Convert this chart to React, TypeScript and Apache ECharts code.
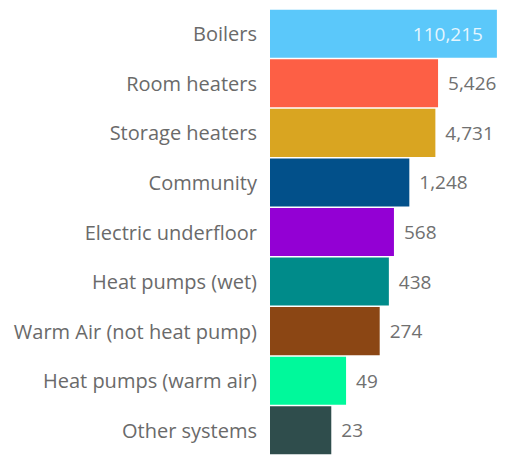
import React, { useEffect, useRef } from "react";
import * as echarts from "echarts";

const categories = [
  "Boilers",
  "Room heaters",
  "Storage heaters",
  "Community",
  "Electric underfloor",
  "Heat pumps (wet)",
  "Warm Air (not heat pump)",
  "Heat pumps (warm air)",
  "Other systems",
];
const values = [110215, 5426, 4731, 1248, 568, 438, 274, 49, 23];
const colors = [
  "#5BC8FA",
  "#FD5F45",
  "#D9A521",
  "#02508A",
  "#9300D4",
  "#008B8A",
  "#8B4614",
  "#00F99B",
  "#2F4D4C",
];

export default function App() {
  const ref = useRef<HTMLDivElement>(null);
  useEffect(() => {
    if (!ref.current) return;
    const chart = echarts.init(ref.current, undefined, { renderer: "svg" });
    const fmt = (v: number) => v.toLocaleString("en-US");
    chart.setOption({
      animation: false,
      grid: { left: 262, right: 6, top: 1, bottom: 5, containLabel: false },
      xAxis: {
        type: "log",
        min: 1,
        max: Math.pow(10, 5.2),
        show: false,
      },
      yAxis: {
        type: "category",
        data: categories,
        inverse: true,
        axisLine: { show: false },
        axisTick: { show: false },
        axisLabel: {
          color: "#6a6a6a",
          fontSize: 20,
          fontFamily: "Open Sans",
          margin: 13,
        },
      },
      series: [
        {
          type: "bar",
          barCategoryGap: "3%",
          data: values.map((v, i) => ({
            value: v,
            itemStyle: { color: colors[i] },
            label:
              i === 0
                ? {
                    show: true,
                    position: "insideRight",
                    distance: 14,
                    color: "rgba(255,255,255,0.85)",
                  }
                : undefined,
          })),
          label: {
            show: true,
            position: "right",
            distance: 10,
            color: "#707070",
            fontSize: 19,
            fontFamily: "Open Sans",
            formatter: (p: any) => fmt(p.value),
          },
        },
      ],
    });
    return () => chart.dispose();
  }, []);
  return <div ref={ref} style={{ width: 502, height: 452 }} />;
}
